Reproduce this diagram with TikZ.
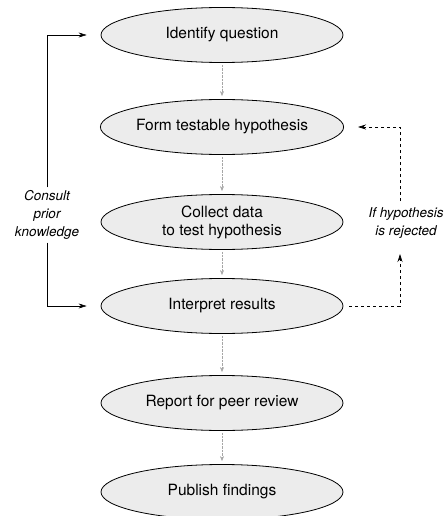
\documentclass[tikz,border=0pt]{standalone}
\usepackage{fontspec}
\setmainfont{TeX Gyre Heros}
\usetikzlibrary{shapes.geometric,arrows.meta}
\tikzset{
	step box/.style={ellipse, draw=black, thick, fill=gray!15, minimum width=242pt,
		minimum height=55pt, inner sep=0pt, align=center, font=\fontsize{15.5}{18}\selectfont},
	side text/.style={align=center, font=\fontsize{13.5}{18}\selectfont\itshape, inner sep=3pt},
	flow/.style={densely dotted, gray!70, -{Stealth[length=5pt,width=4pt]}, shorten <=2pt, shorten >=3pt},
	loop/.style={semithick, -{Stealth[length=8pt,width=5pt]}},
}

\begin{document}
\begin{tikzpicture}[x=1pt, y=-1pt]
		\useasboundingbox (0,0) rectangle (445,516);
		% the steps
		\node[step box] (ident) at (222,35) {Identify question};
		\node[step box] (form) at (222,127) {Form testable hypothesis};
		\node[step box] (collect) at (222,222) {Collect data\\to test hypothesis};
		\node[step box] (interp) at (222,306) {Interpret results};
		\node[step box] (report) at (222,403) {Report for peer review};
		\node[step box] (publish) at (222,492) {Publish findings};
		
		\draw[flow] (ident) -- (form);
		\draw[flow] (form) -- (collect);
		\draw[flow] (collect) -- (interp);
		\draw[flow] (interp) -- (report);
		\draw[flow] (report) -- (publish);
		
		% left side
		\node[side text] (consult) at (47,215) {Consult\\prior\\knowledge};
		\draw[loop] (consult.north) |- (ident.west) [shorten >=14pt];
		\draw[loop] (consult.south) |- (interp.west) [shorten >=14pt];
		
		% right side
		\node[side text] (reject) at (406,223) {If hypothesis\\is rejected};
		\coordinate (rb) at (400,254);
		\coordinate (rt) at (400,201);
		\draw[loop, dashed] (interp.east) [shorten <=6pt] -| (rb);
		\draw[loop, dashed] (rt) |- (form.east) [shorten >=14pt];
		
\end{tikzpicture}
\end{document}
